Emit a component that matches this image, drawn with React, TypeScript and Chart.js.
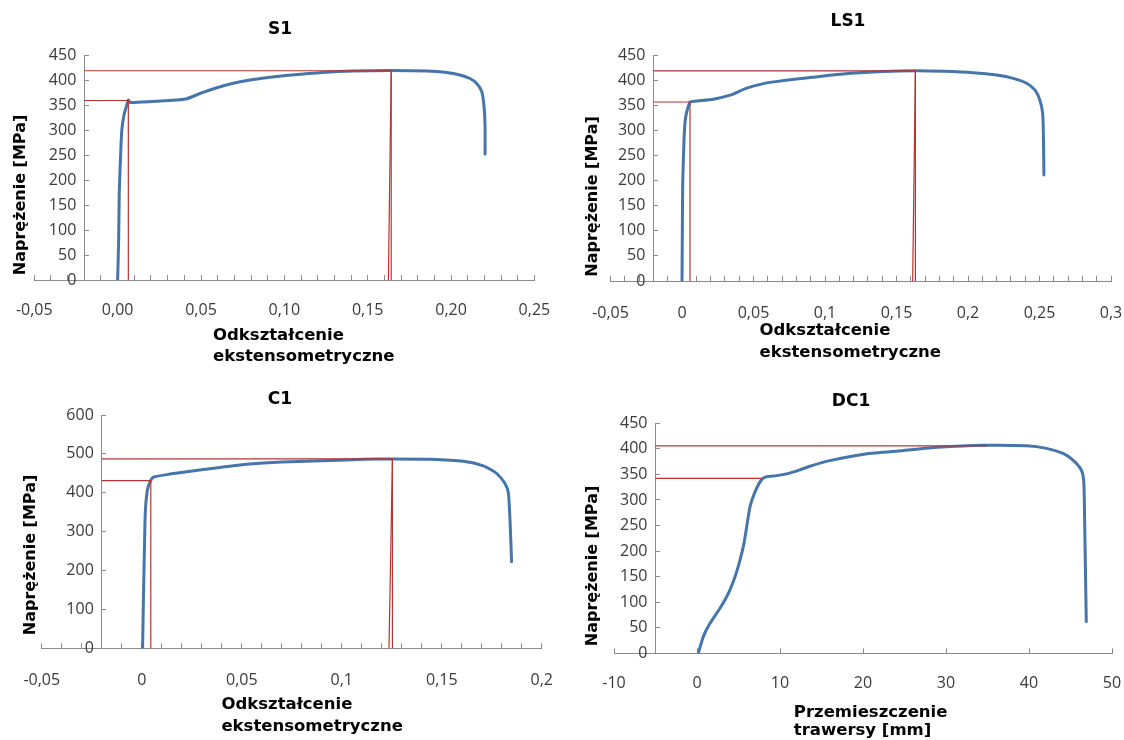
import React, { useEffect, useRef } from 'react';
import { Chart, registerables } from 'chart.js';

Chart.register(...registerables);

// ---------------- S1 ----------------
const S1_TITLE = 'S1';
const S1_STRAIN = [0, 0.0006, 0.001, 0.0019, 0.0025, 0.0038, 0.0055, 0.0064, 0.0075, 0.021, 0.031, 0.0409, 0.0494, 0.058, 0.0687, 0.0794, 0.0902, 0.1008, 0.1116, 0.1223, 0.1414, 0.1634, 0.1854, 0.1974, 0.2054, 0.2114, 0.2154, 0.2184, 0.2198, 0.2204, 0.2204];
const S1_STRESS = [0, 80, 180, 260, 300, 330, 350, 360, 355, 357, 359, 362, 373, 383, 393, 400, 405, 409, 412, 415, 418, 419, 418, 415, 410, 403, 393, 377, 347, 307, 252];
const S1_RM_X = [-0.02, 0.1641, 0.1641];
const S1_RM_Y = [418.5, 418.5, 0];
const S1_RM_OFF_X = [0.1624, 0.1641];
const S1_RM_OFF_Y = [0, 418.5];
const S1_RE_X = [-0.02, 0.0064, 0.0064];
const S1_RE_Y = [359, 359, 0];
const S1_X_TICKS = [-0.05, 0, 0.05, 0.1, 0.15, 0.2, 0.25];
const S1_X_LABELS = ['-0,05', '0,00', '0,05', '0,10', '0,15', '0,20', '0,25'];

// ---------------- LS1 ----------------
const LS1_TITLE = 'LS1';
const LS1_STRAIN = [0, 0.0002, 0.0005, 0.0014, 0.0023, 0.0037, 0.0056, 0.0091, 0.0219, 0.0336, 0.0452, 0.0569, 0.0656, 0.08, 0.0908, 0.116, 0.141, 0.1632, 0.1827, 0.2037, 0.2201, 0.2317, 0.241, 0.2469, 0.2503, 0.2522, 0.2527, 0.2531];
const LS1_STRESS = [0, 82, 194, 281, 321, 341, 356, 358, 362, 370, 384, 393, 397, 402, 405.6, 413, 417, 418.5, 417.5, 414.8, 410, 403.5, 393.7, 380, 360, 334, 294, 211];
const LS1_RM_X = [-0.02, 0.1632, 0.1632];
const LS1_RM_Y = [418.5, 418.5, 0];
const LS1_RM_OFF_X = [0.1613, 0.1632];
const LS1_RM_OFF_Y = [0, 418.5];
const LS1_RE_X = [-0.02, 0.0056, 0.0056];
const LS1_RE_Y = [356.4, 356.4, 0];
const LS1_X_TICKS = [-0.05, 0, 0.05, 0.1, 0.15, 0.2, 0.25, 0.3];
const LS1_X_LABELS = ['-0,05', '0', '0,05', '0,1', '0,15', '0,2', '0,25', '0,3'];

// ---------------- C1 ----------------
const C1_TITLE = 'C1';
const C1_STRAIN = [0.0004, 0.0008, 0.0013, 0.0018, 0.0028, 0.0041, 0.0058, 0.0141, 0.0308, 0.0391, 0.054, 0.07, 0.0941, 0.1108, 0.1253, 0.1441, 0.1608, 0.1708, 0.1774, 0.1816, 0.1833, 0.1841, 0.1849];
const C1_STRESS = [0, 124, 253, 356, 407, 428, 440, 448, 460, 465, 474, 479, 483, 486, 487, 486, 481, 469, 450, 424, 399, 330, 223];
const C1_RM_X = [-0.02, 0.1253, 0.1253];
const C1_RM_Y = [487, 487, 0];
const C1_RM_OFF_X = [0.1236, 0.1253];
const C1_RM_OFF_Y = [0, 487];
const C1_RE_X = [-0.02, 0.0045, 0.0045];
const C1_RE_Y = [431, 431, 0];
const C1_X_TICKS = [-0.05, 0, 0.05, 0.1, 0.15, 0.2];
const C1_X_LABELS = ['-0,05', '0', '0,05', '0,1', '0,15', '0,2'];

// ---------------- DC1 ----------------
const DC1_TITLE = 'DC1';
const DC1_DISP = [0.16, 0.76, 1.57, 2.77, 3.77, 4.58, 5.18, 5.66, 5.99, 6.39, 6.99, 7.8, 8.4, 9.6, 10.8, 12.4, 13.6, 16.0, 20.3, 24.7, 29.0, 34.5, 39.7, 42.1, 44.1, 45.3, 46.3, 46.6, 46.7, 46.8, 46.9];
const DC1_STRESS = [0, 32.6, 58.7, 88, 117, 150, 182.5, 215, 248, 287, 316, 340, 345.6, 347.6, 351, 359, 366, 377, 390, 396.5, 403, 407, 406, 401, 391, 378, 358.6, 335.8, 260.8, 163, 62];
const DC1_RM_X = [-5, 35];
const DC1_RM_Y = [406, 406];
const DC1_RE_X = [-5, 7.8];
const DC1_RE_Y = [342.4, 342.4];
const DC1_X_TICKS = [-10, 0, 10, 20, 30, 40, 50];
const DC1_X_LABELS = ['-10', '0', '10', '20', '30', '40', '50'];

// ---------------- axis titles ----------------
const Y_TITLE = 'Naprężenie [MPa]';
const X_TITLE_STRAIN = ['Odkształcenie', 'ekstensometryczne'];
const X_TITLE_DISP = ['Przemieszczenie', 'trawersy [mm]'];

// ---------------- styles ----------------
const BLUE = '#4675ab';
const RED = '#b83330';
const AXIS = '#8a8a8a';
const TICK_TEXT = '#3a3a3a';
const TICK_SIZE = 16;
const TICK_FAMILY = 'Open Sans';
const TITLE_FONT = { family: 'DejaVu Sans', size: 17, weight: 'bold' as const };

type Line = { x: number[]; y: number[] };
type Spec = {
  id: string;
  title: string;
  box: { left: number; top: number; width: number; height: number };
  xMin: number; xMax: number; xStep: number; yAxisAt: number;
  yMax: number; yStep: number;
  xTicks: number[]; xLabels: string[];
  curve: Line;
  red: Line[];
  xTitle: string[];
  lay: {
    padLeft: number; padAxisW: number; padRight: number; padBottom: number;
    titleTop: number; titleBottom: number; xLabelLH: number;
    xTitleDx: number; xTitleDy: number[]; yCx: number; yCy: number;
  };
};

const SPECS: Spec[] = [
  {
    id: 'S1', title: S1_TITLE, box: { left: 0, top: 0, width: 560, height: 370 },
    xMin: -0.05, xMax: 0.25, xStep: 0.01, yAxisAt: -0.02, yMax: 450, yStep: 50,
    xTicks: S1_X_TICKS, xLabels: S1_X_LABELS,
    curve: { x: S1_STRAIN, y: S1_STRESS },
    red: [{ x: S1_RM_X, y: S1_RM_Y }, { x: S1_RM_OFF_X, y: S1_RM_OFF_Y }, { x: S1_RE_X, y: S1_RE_Y }],
    xTitle: X_TITLE_STRAIN,
    lay: { padLeft: 25.6, padAxisW: 8.7, padRight: 25.6, padBottom: 50, titleTop: 19.8, titleBottom: 14.8, xLabelLH: 70, xTitleDx: 178.7, xTitleDy: [60, 81], yCx: 20.5, yCy: 195 },
  },
  {
    id: 'LS1', title: LS1_TITLE, box: { left: 560, top: 0, width: 564, height: 370 },
    xMin: -0.05, xMax: 0.3, xStep: 0.01, yAxisAt: -0.02, yMax: 450, yStep: 50,
    xTicks: LS1_X_TICKS, xLabels: LS1_X_LABELS,
    curve: { x: LS1_STRAIN, y: LS1_STRESS },
    red: [{ x: LS1_RM_X, y: LS1_RM_Y }, { x: LS1_RM_OFF_X, y: LS1_RM_OFF_Y }, { x: LS1_RE_X, y: LS1_RE_Y }],
    xTitle: X_TITLE_STRAIN,
    lay: { padLeft: 25, padAxisW: 25.5, padRight: 13, padBottom: 49, titleTop: 11.8, titleBottom: 22.8, xLabelLH: 74, xTitleDx: 149, xTitleDy: [54, 76], yCx: 32.4, yCy: 196.5 },
  },
  {
    id: 'C1', title: C1_TITLE, box: { left: 0, top: 370, width: 560, height: 370 },
    xMin: -0.05, xMax: 0.2, xStep: 0.01, yAxisAt: -0.02, yMax: 600, yStep: 100,
    xTicks: C1_X_TICKS, xLabels: C1_X_LABELS,
    curve: { x: C1_STRAIN, y: C1_STRESS },
    red: [{ x: C1_RM_X, y: C1_RM_Y }, { x: C1_RM_OFF_X, y: C1_RM_OFF_Y }, { x: C1_RE_X, y: C1_RE_Y }],
    xTitle: X_TITLE_STRAIN,
    lay: { padLeft: 18.2, padAxisW: 23.6, padRight: 18.2, padBottom: 51.7, titleTop: 19.8, titleBottom: 4.8, xLabelLH: 73.4, xTitleDx: 179.6, xTitleDy: [61, 82.7], yCx: 30.5, yCy: 185 },
  },
  {
    id: 'DC1', title: DC1_TITLE, box: { left: 560, top: 370, width: 564, height: 370 },
    xMin: -10, xMax: 50, xStep: 10, yAxisAt: -5, yMax: 450, yStep: 50,
    xTicks: DC1_X_TICKS, xLabels: DC1_X_LABELS,
    curve: { x: DC1_DISP, y: DC1_STRESS },
    red: [{ x: DC1_RM_X, y: DC1_RM_Y }, { x: DC1_RE_X, y: DC1_RE_Y }],
    xTitle: X_TITLE_DISP,
    lay: { padLeft: 30, padAxisW: 24, padRight: 12, padBottom: 46.7, titleTop: 21.8, titleBottom: 11.1, xLabelLH: 69.4, xTitleDx: 179.8, xTitleDy: [63.3, 82], yCx: 32.4, yCy: 196 },
  },
];

const toPoints = (l: Line) => l.x.map((x, i) => ({ x, y: l.y[i] }));

// Draws the two-line, left-aligned x title and the rotated y title (as in the Excel original),
// and keeps a small gap between the y tick labels and the value-positioned y axis line.
const axisTitlesPlugin = {
  id: 'axisTitles',
  beforeDraw(chart: any, _args: any, opts: any) {
    const scale = chart.scales.y;
    if (!scale || !opts) return;
    const items = scale.getLabelItems(chart.chartArea);
    if (items && !items.__shifted) {
      items.forEach((it: any) => { it.options.translation[0] -= opts.yLabelGap; });
      items.__shifted = true;
    }
  },
  afterDraw(chart: any, _args: any, opts: any) {
    if (!opts || !opts.xLines) return;
    const { ctx, chartArea } = chart;
    ctx.save();
    ctx.fillStyle = '#000';
    ctx.font = opts.xFont;
    ctx.textAlign = 'left';
    ctx.textBaseline = 'alphabetic';
    opts.xLines.forEach((line: string, i: number) => {
      ctx.fillText(line, chartArea.left + opts.xDx, chartArea.bottom + opts.xDy[i]);
    });
    ctx.translate(opts.yCx, opts.yCy);
    ctx.rotate(-Math.PI / 2);
    ctx.font = opts.yFont;
    ctx.textAlign = 'center';
    ctx.textBaseline = 'middle';
    ctx.fillText(opts.yText, 0, 0);
    ctx.restore();
  },
};

function buildConfig(s: Spec): any {
  const L = s.lay;
  return {
    type: 'scatter',
    data: {
      datasets: [
        ...s.red.map((r) => ({
          data: toPoints(r), showLine: true, borderColor: RED, backgroundColor: RED,
          borderWidth: 1.2, pointRadius: 0, pointHoverRadius: 0, tension: 0, order: 1,
          xAxisID: 'x', yAxisID: 'y',
        })),
        {
          data: toPoints(s.curve), showLine: true, borderColor: BLUE, backgroundColor: BLUE,
          borderWidth: 3, pointRadius: 0, pointHoverRadius: 0, tension: 0.2, order: 2,
          borderCapStyle: 'round', borderJoinStyle: 'round',
          xAxisID: 'x', yAxisID: 'y',
        },
      ],
    },
    options: {
      responsive: false,
      animation: false,
      events: [],
      layout: { padding: { left: L.padLeft, right: L.padRight, top: 0, bottom: L.padBottom } },
      plugins: {
        legend: { display: false },
        tooltip: { enabled: false },
        title: {
          display: true, text: s.title, color: '#000', font: TITLE_FONT,
          padding: { top: L.titleTop, bottom: L.titleBottom },
        },
        axisTitles: {
          xLines: s.xTitle, xDx: L.xTitleDx, xDy: L.xTitleDy,
          xFont: 'bold 16.5px "DejaVu Sans"', yFont: 'bold 16px "DejaVu Sans"',
          yText: Y_TITLE, yCx: L.yCx, yCy: L.yCy, yLabelGap: 8,
        },
      },
      scales: {
        x: {
          type: 'linear', position: 'bottom', min: s.xMin, max: s.xMax,
          grid: { drawOnChartArea: false, drawTicks: true, tickLength: -5, color: AXIS, tickColor: AXIS },
          border: { display: true, color: AXIS, width: 1 },
          ticks: {
            stepSize: s.xStep, maxTicksLimit: 1000, autoSkip: false, maxRotation: 0, minRotation: 0,
            padding: 0, color: TICK_TEXT,
            font: { family: TICK_FAMILY, size: TICK_SIZE, lineHeight: `${L.xLabelLH}px` },
            callback: (value: number) => {
              const i = s.xTicks.findIndex((m) => Math.abs(m - value) < s.xStep / 100);
              return i >= 0 ? s.xLabels[i] : '';
            },
          },
          afterFit: (scale: any) => { scale.height = 40; },
        },
        y: {
          type: 'linear', position: { x: s.yAxisAt }, min: 0, max: s.yMax,
          grid: { drawOnChartArea: false, drawTicks: true, tickLength: -5, color: AXIS, tickColor: AXIS },
          border: { display: true, color: AXIS, width: 1 },
          ticks: { stepSize: s.yStep, maxTicksLimit: 1000, padding: 0, font: { family: TICK_FAMILY, size: TICK_SIZE }, color: TICK_TEXT },
        },
        pad: {
          type: 'linear', position: 'left', axis: 'y', display: true,
          grid: { display: false, drawTicks: false }, border: { display: false },
          ticks: { display: false, padding: 0 },
          afterFit: (scale: any) => { scale.width = L.padAxisW; },
        },
      },
    },
    plugins: [axisTitlesPlugin],
  };
}

function ChartPanel({ spec }: { spec: Spec }) {
  const ref = useRef<HTMLCanvasElement>(null);
  useEffect(() => {
    if (!ref.current) return;
    const chart = new Chart(ref.current, buildConfig(spec));
    return () => chart.destroy();
  }, [spec]);
  const b = spec.box;
  return (
    <canvas
      ref={ref}
      width={b.width}
      height={b.height}
      style={{ position: 'absolute', left: b.left, top: b.top, width: b.width, height: b.height }}
    />
  );
}

export default function App() {
  return (
    <div style={{ position: 'absolute', left: 0, top: 0, width: 1124, height: 740, background: '#fff', overflow: 'hidden' }}>
      {SPECS.map((s) => <ChartPanel key={s.id} spec={s} />)}
    </div>
  );
}
